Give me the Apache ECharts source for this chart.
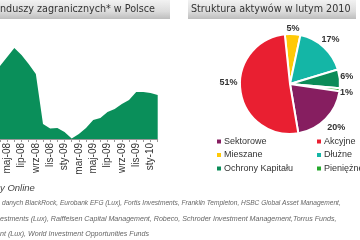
<!DOCTYPE html>
<html><head><meta charset="utf-8">
<script src="https://cdn.jsdelivr.net/npm/echarts@6/dist/echarts.min.js"></script>
<style>html,body{margin:0;padding:0;background:#fff;overflow:hidden}#c{width:360px;height:240px}</style>
</head><body><div id="c"></div>
<script>
const months = ['kwi-08','maj-08','cze-08','lip-08','sie-08','wrz-08','paź-08','lis-08','gru-08',
  'sty-09','lut-09','mar-09','kwi-09','maj-09','cze-09','lip-09','sie-09','wrz-09','paź-09','lis-09','gru-09',
  'sty-10','lut-10'];
const assets = [73,82,91,84,75,65,15,10.5,11,7,0.5,5,11,19,21,27,30,35,39,47,47,46,44];
const pieNames = ['Mieszane','Dłużne','Ochrony Kapitału','Pieniężne','Sektorowe','Akcyjne'];
const pieValues = [5,17,6,1,20,51];
const pieColors = ['#ffc907','#14b6a6','#0b8c58','#25a92c','#861e60','#e91f31'];
const legendLeft = ['Sektorowe','Mieszane','Ochrony Kapitału'];
const legendRight = ['Akcyjne','Dłużne','Pieniężne'];
const leftTitle = 'nduszy zagranicznych* w Polsce';
const rightTitle = 'Struktura aktywów w lutym 2010';
const notes = ['y Online',
  'danych BlackRock, Eurobank EFG (Lux), Fortis Investments, Franklin Templeton, HSBC Global Asset Management,',
  'estments (Lux), Raiffeisen Capital Management, Robeco, Schroder Investment Management,Torrus Funds,',
  'nt (Lux), World Investment Opportunities Funds'];

const pieCenter = [290, 84];
const pieRadius = 50;
const pieStart = 96;
// label distance from centre and small nudges per slice (style only)
const labelDist = [56, 60, 57, 57, 62, 62];
const labelNudge = [[0,0],[0,0],[0,-2],[0,2],[2,0],[0,-10]];

const total = pieValues.reduce((a,b)=>a+b,0);
const midAngles = [];
let acc = pieStart;
pieValues.forEach(v => { const s = v/total*360; midAngles.push(acc - s/2); acc -= s; });

const chart = echarts.init(document.getElementById('c'), null, {renderer:'canvas'});
const barGrad = new echarts.graphic.LinearGradient(0,0,0,1,[{offset:0,color:'#f2f2f2'},{offset:0.6,color:'#dcdcdc'},{offset:1,color:'#bdbdbd'}]);
const titleFont = {fontFamily:'DejaVu Sans', fontSize:9.6, fill:'#333', verticalAlign:'middle'};
const noteFont = {fontFamily:'Liberation Sans', fontStyle:'italic', fontSize:7.1, fill:'#666', verticalAlign:'middle'};

chart.setOption({
  animation:false,
  backgroundColor:'#fff',
  grid:{left:-3.3, right:202.3, top:39, bottom:101, containLabel:false},
  xAxis:{type:'category', data:months, boundaryGap:false,
    axisLine:{lineStyle:{color:'#999', width:1}},
    axisTick:{show:true, interval:0, length:3, lineStyle:{color:'#999'}},
    axisLabel:{interval:(i)=>i%2===1, rotate:90, fontSize:10, color:'#333', fontFamily:'Liberation Sans', margin:4}},
  yAxis:{type:'value', min:0, max:100, show:false},
  legend:[
    {left:215, top:137, padding:0, orient:'vertical', itemGap:4.5, itemWidth:6, itemHeight:6, icon:'rect',
     data:legendLeft, textStyle:{fontSize:9, color:'#333', fontFamily:'Liberation Sans', padding:[0,0,0,-3]}, selectedMode:false},
    {left:315, top:137, padding:0, orient:'vertical', itemGap:4.5, itemWidth:6, itemHeight:6, icon:'rect',
     data:legendRight, textStyle:{fontSize:9, color:'#333', fontFamily:'Liberation Sans', padding:[0,0,0,-3]}, selectedMode:false}
  ],
  series:[
    {type:'line', data:assets, symbol:'none', lineStyle:{width:0}, areaStyle:{color:'#0a8f5a', opacity:1}, z:2},
    {type:'pie', center:pieCenter, radius:[0,pieRadius], startAngle:pieStart, clockwise:true, avoidLabelOverlap:false,
     itemStyle:{borderColor:'#fff', borderWidth:2},
     label:{show:true, position:'outside', formatter:'{c}%', fontSize:9, fontWeight:'bold', color:'#333', fontFamily:'Liberation Sans', overflow:'none'},
     labelLine:{show:false},
     labelLayout:(p)=>{
       const i = p.dataIndex, a = midAngles[i]*Math.PI/180, r = labelDist[i];
       return {x: pieCenter[0] + r*Math.cos(a) + labelNudge[i][0], y: pieCenter[1] - r*Math.sin(a) + labelNudge[i][1],
               align:'center', verticalAlign:'middle', hideOverlap:false};
     },
     data:pieNames.map((n,i)=>({name:n, value:pieValues[i], itemStyle:{color:pieColors[i]}}))}
  ],
  graphic:[
    {type:'rect', shape:{x:0,y:0,width:170,height:19}, style:{fill:barGrad}, z:-1},
    {type:'text', x:0, y:9.5, style:Object.assign({text:leftTitle}, titleFont)},
    {type:'rect', shape:{x:188,y:0,width:168,height:19}, style:{fill:barGrad}, z:-1},
    {type:'text', x:191, y:9.5, style:Object.assign({text:rightTitle}, titleFont)},
    {type:'text', x:0, y:188, style:Object.assign({text:notes[0]}, noteFont, {fontSize:9.5, fill:'#444'})},
    {type:'text', x:2, y:203, style:Object.assign({text:notes[1]}, noteFont, {fontSize:6.6})},
    {type:'text', x:0, y:219, style:Object.assign({text:notes[2]}, noteFont)},
    {type:'text', x:0, y:234, style:Object.assign({text:notes[3]}, noteFont)}
  ]
});
</script></body></html>
